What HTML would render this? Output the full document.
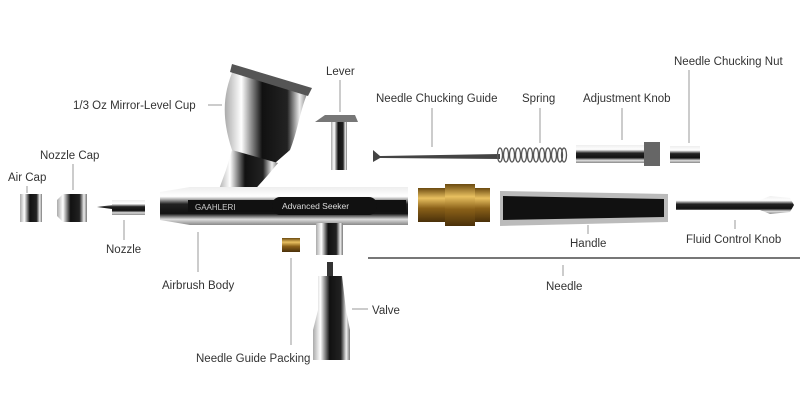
<!DOCTYPE html>
<html><head><meta charset="utf-8"><style>
html,body{margin:0;padding:0;background:#fff;width:800px;height:410px;overflow:hidden}
svg{display:block}
text{font-family:"Liberation Sans",sans-serif;font-size:11.5px;fill:#333}
</style></head><body>
<svg width="800" height="410" viewBox="0 0 800 410">
<defs>
<linearGradient id="chrome" x1="0" y1="0" x2="0" y2="1">
<stop offset="0" stop-color="#eee"/><stop offset=".25" stop-color="#fff"/><stop offset=".45" stop-color="#222"/><stop offset=".7" stop-color="#111"/><stop offset=".85" stop-color="#ddd"/><stop offset="1" stop-color="#888"/></linearGradient>
<linearGradient id="chromeH" x1="0" y1="0" x2="1" y2="0">
<stop offset="0" stop-color="#aaa"/><stop offset=".2" stop-color="#fff"/><stop offset=".45" stop-color="#111"/><stop offset=".75" stop-color="#222"/><stop offset=".9" stop-color="#eee"/><stop offset="1" stop-color="#777"/></linearGradient>
<linearGradient id="gold" x1="0" y1="0" x2="0" y2="1">
<stop offset="0" stop-color="#6b4a10"/><stop offset=".3" stop-color="#e8c060"/><stop offset=".6" stop-color="#8a6018"/><stop offset="1" stop-color="#4a300a"/></linearGradient>
</defs>
<g stroke="#999" stroke-width="1">
<line x1="208" y1="105" x2="222" y2="105"/>
<line x1="340" y1="80" x2="340" y2="112"/>
<line x1="432" y1="108" x2="432" y2="147"/>
<line x1="540" y1="108" x2="540" y2="143"/>
<line x1="622" y1="108" x2="622" y2="140"/>
<line x1="689" y1="70" x2="689" y2="143"/>
<line x1="73" y1="164" x2="73" y2="190"/>
<line x1="27" y1="186" x2="27" y2="193"/>
<line x1="124" y1="220" x2="124" y2="240"/>
<line x1="198" y1="232" x2="198" y2="272"/>
<line x1="588" y1="225" x2="588" y2="234"/>
<line x1="735" y1="220" x2="735" y2="229"/>
<line x1="563" y1="265" x2="563" y2="276"/>
<line x1="352" y1="309" x2="368" y2="309"/>
<line x1="291" y1="258" x2="291" y2="345"/>
</g>
<line x1="368" y1="258" x2="800" y2="258" stroke="#777" stroke-width="2"/>
<!-- cup -->
<path d="M234 68 L308 92 C300 110 298 130 290 150 L275 163 L250 160 L232 150 C222 120 222 95 234 68 Z" fill="url(#chromeH)"/>
<path d="M232 64 L312 88 L308 96 L230 72 Z" fill="#555"/>
<path d="M232 150 L278 163 L268 175 L250 195 L218 192 L226 170 Z" fill="url(#chromeH)"/>
<!-- body -->
<path d="M160 192 L190 187 L408 187 L408 225 L190 225 L160 220 Z" fill="url(#chrome)"/>
<rect x="188" y="200" width="218" height="12" fill="#111"/>
<rect x="272" y="197" width="105" height="18" rx="8" fill="#111"/>
<text x="195" y="210" style="font-size:8px;fill:#ccc">GAAHLERI</text>
<text x="282" y="209" style="font-size:8.5px;fill:#ddd">Advanced Seeker</text>
<rect x="316" y="223" width="27" height="32" fill="url(#chromeH)"/>
<rect x="20" y="194" width="22" height="28" fill="url(#chromeH)"/>
<path d="M57 200 L63 194 L87 194 L87 222 L63 222 L57 216 Z" fill="url(#chromeH)"/>
<path d="M97 207 L112 205 L112 200 L145 200 L145 215 L112 215 L112 209 Z" fill="url(#chrome)"/>
<!-- lever -->
<path d="M315 122 L325 115 L355 115 L358 122 Z" fill="#777"/>
<rect x="331" y="122" width="16" height="48" fill="url(#chromeH)"/>
<!-- guide -->
<path d="M373 150 L380 156 L500 154 L500 159 L380 158 L373 162 Z" fill="#444"/>
<g stroke="#555" stroke-width="1.3" fill="none">
<ellipse cx="500" cy="155" rx="2.5" ry="7"/><ellipse cx="506" cy="155" rx="2.5" ry="7"/><ellipse cx="512" cy="155" rx="2.5" ry="7"/><ellipse cx="518" cy="155" rx="2.5" ry="7"/><ellipse cx="524" cy="155" rx="2.5" ry="7"/><ellipse cx="530" cy="155" rx="2.5" ry="7"/><ellipse cx="536" cy="155" rx="2.5" ry="7"/><ellipse cx="542" cy="155" rx="2.5" ry="7"/><ellipse cx="548" cy="155" rx="2.5" ry="7"/><ellipse cx="554" cy="155" rx="2.5" ry="7"/><ellipse cx="560" cy="155" rx="2.5" ry="7"/><ellipse cx="564" cy="155" rx="2.5" ry="7"/>
</g>
<rect x="576" y="145" width="68" height="18" fill="url(#chrome)"/>
<rect x="644" y="142" width="16" height="24" fill="#666"/>
<rect x="670" y="146" width="30" height="17" fill="url(#chrome)"/>
<rect x="418" y="188" width="72" height="34" fill="url(#gold)"/>
<rect x="445" y="184" width="30" height="42" fill="url(#gold)"/>
<!-- handle -->
<path d="M500 191 L668 194 L668 222 L500 226 Z" fill="#bbb"/>
<path d="M503 196 L664 199 L664 217 L503 220 Z" fill="#111"/>
<path d="M676 200 L760 200 L770 196 L790 198 L794 205 L790 212 L770 214 L760 210 L676 210 Z" fill="url(#chrome)"/>
<rect x="282" y="238" width="18" height="14" fill="url(#gold)"/>
<rect x="327" y="262" width="6" height="14" fill="#333"/>
<path d="M318 276 L342 276 L346 310 L350 330 L350 360 L313 360 L313 330 L318 310 Z" fill="url(#chromeH)"/>
<text x="73" y="109">1/3 Oz  Mirror-Level Cup</text>
<text x="326" y="75">Lever</text>
<text x="376" y="102">Needle Chucking Guide</text>
<text x="522" y="102">Spring</text>
<text x="583" y="102">Adjustment Knob</text>
<text x="674" y="65">Needle Chucking Nut</text>
<text x="40" y="159">Nozzle Cap</text>
<text x="8" y="181">Air Cap</text>
<text x="106" y="253">Nozzle</text>
<text x="162" y="289">Airbrush Body</text>
<text x="570" y="247">Handle</text>
<text x="686" y="243">Fluid Control Knob</text>
<text x="546" y="290">Needle</text>
<text x="372" y="314">Valve</text>
<text x="196" y="362">Needle Guide Packing</text>
</svg>
</body></html>
